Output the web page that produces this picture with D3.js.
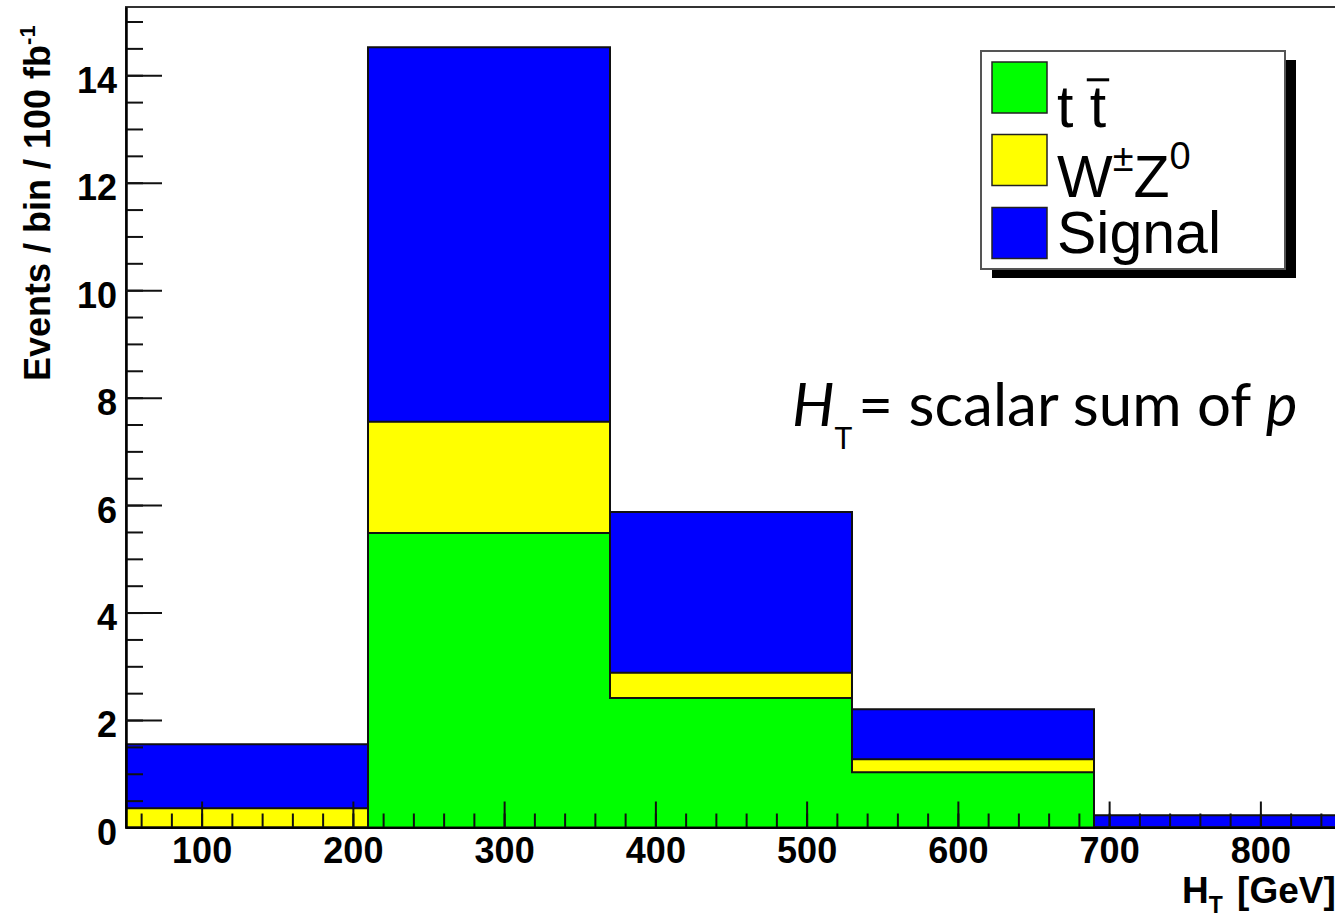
<!DOCTYPE html>
<html>
<head>
<meta charset="utf-8">
<script src="https://cdn.jsdelivr.net/npm/d3@7"></script>
<style>
  html, body { margin: 0; padding: 0; background: #fff; overflow: hidden; }
  svg { display: block; }
  text { font-family: "Liberation Sans", Arial, Helvetica, sans-serif; }
</style>
</head>
<body>
<div id="chart"></div>
<script>
// bin edges in GeV and stacked contents (events / bin / 100 fb^-1)
var binEdges = [50, 210, 370, 530, 690, 850]
var ttbar = [0, 5.48, 2.41, 1.03, 0]
var wz = [0.36, 2.07, 0.47, 0.24, 0]
var signal = [1.19, 6.97, 2.99, 0.93, 0.23]

var keys = ["ttbar", "wz", "signal"]
var colors = ["#00ff00", "#ffff00", "#0000ff"]
var yMajor = [0, 2, 4, 6, 8, 10, 12, 14]
var xMajor = [100, 200, 300, 400, 500, 600, 700, 800]

var W = 1335, H = 914

var svg = d3.select("#chart").append("svg")
    .attr("width", W)
    .attr("height", H)

var x = d3.scaleLinear().domain([50, 850]).range([126, 1336])
var y = d3.scaleLinear().domain([0, 15.27]).range([827.5, 7])

// table for d3.stack
var table = binEdges.slice(0, -1).map(function(e, i) {
    return { lo: e, hi: binEdges[i + 1], ttbar: ttbar[i], wz: wz[i], signal: signal[i] }
})
var stacked = d3.stack().keys(keys)(table)

// frame
svg.append("rect")
    .attr("x", x(50)).attr("y", y(15.27))
    .attr("width", x(850) - x(50)).attr("height", y(0) - y(15.27))
    .attr("fill", "none").attr("stroke", "#333").attr("stroke-width", 2)

// cumulative histograms drawn top first, each filled from zero (THStack style)
var line = d3.line()
for (let k = stacked.length - 1; k >= 0; k--) {
    let pts = [[x(binEdges[0]), y(0)]]
    stacked[k].forEach(function(d) {
        pts.push([x(d.data.lo), y(d[1])])
        pts.push([x(d.data.hi), y(d[1])])
    })
    pts.push([x(binEdges[binEdges.length - 1]), y(0)])
    svg.append("path")
        .attr("d", line(pts) + "Z")
        .attr("fill", colors[k])
        .attr("stroke", "#111")
        .attr("stroke-width", 2)
        .attr("stroke-linejoin", "miter")
}

// axes
var yAxisMinor = d3.axisLeft(y).tickValues(d3.range(0, 15.01, 0.5)).tickSize(-17).tickSizeOuter(0).tickFormat("")
var yAxisMajor = d3.axisLeft(y).tickValues(yMajor).tickSize(-36).tickSizeOuter(0).tickPadding(9)
var xAxisMinor = d3.axisBottom(x).tickValues(d3.range(60, 841, 20)).tickSize(-14).tickSizeOuter(0).tickFormat("")
var xAxisMajor = d3.axisBottom(x).tickValues(xMajor).tickSize(-26).tickSizeOuter(0).tickPadding(9.5)

function styleAxis(g) {
    g.select(".domain").attr("stroke", "#000").attr("stroke-width", 2)
    g.selectAll(".tick line").attr("stroke", "#111").attr("stroke-width", 2)
    g.selectAll(".tick text")
        .attr("fill", "#000")
        .style("font-family", '"Liberation Sans", Arial, sans-serif')
        .style("font-weight", "bold")
        .style("font-size", "36px")
}

svg.append("g").attr("transform", "translate(" + x(50) + ",0)").call(yAxisMinor).call(styleAxis)
var gy = svg.append("g").attr("transform", "translate(" + x(50) + ",0)").call(yAxisMajor).call(styleAxis)
gy.selectAll(".tick text").attr("dy", "0.47em")
svg.append("g").attr("transform", "translate(0," + y(0) + ")").call(xAxisMinor).call(styleAxis)
svg.append("g").attr("transform", "translate(0," + y(0) + ")").call(xAxisMajor).call(styleAxis)

// axis titles
var yt = svg.append("text")
    .attr("transform", "translate(50,381) rotate(-90)")
    .style("font-weight", "bold").style("font-size", "36px")
    .attr("fill", "#000")
yt.append("tspan").text("Events / bin / 100 fb")
yt.append("tspan").attr("dy", -15).style("font-size", "22px").text("-1")

var xt = svg.append("text")
    .attr("x", 1182).attr("y", 903)
    .style("font-weight", "bold").style("font-size", "37px")
    .attr("fill", "#000")
xt.append("tspan").text("H")
xt.append("tspan").attr("dy", 10).style("font-size", "23px").text("T")
xt.append("tspan").attr("dy", -10).attr("dx", 4).text(" [GeV]")

// legend
var leg = svg.append("g")
leg.append("rect").attr("x", 992).attr("y", 60).attr("width", 304).attr("height", 218).attr("fill", "#000")
leg.append("rect").attr("x", 981).attr("y", 51).attr("width", 304).attr("height", 218)
    .attr("fill", "#fff").attr("stroke", "#555").attr("stroke-width", 2)

var legRows = [62, 134.5, 207.5]
var legBase = [127, 197, 253]
legRows.forEach(function(ry, i) {
    leg.append("rect").attr("x", 992).attr("y", ry).attr("width", 55).attr("height", 51)
        .attr("fill", colors[i]).attr("stroke", "#222").attr("stroke-width", 1.5)
})

var fs = 59
var t0 = leg.append("text").attr("x", 1057).attr("y", legBase[0]).style("font-size", fs + "px").text("t t")
var ext = t0.node().getExtentOfChar(2)
leg.append("line")
    .attr("x1", ext.x - 3).attr("x2", ext.x + ext.width + 3)
    .attr("y1", legBase[0] - 0.8 * fs).attr("y2", legBase[0] - 0.8 * fs)
    .attr("stroke", "#000").attr("stroke-width", 3)

var t1 = leg.append("text").attr("x", 1057).attr("y", legBase[1]).style("font-size", fs + "px")
t1.append("tspan").text("W")
t1.append("tspan").attr("dy", -26).style("font-size", "38px").text("\u00b1")
t1.append("tspan").attr("dy", 26).text("Z")
t1.append("tspan").attr("dy", -28).style("font-size", "38px").text("0")

leg.append("text").attr("x", 1057).attr("y", legBase[2]).style("font-size", fs + "px").text("Signal")

// annotation from the slide
var note = svg.append("text")
    .attr("x", 792).attr("y", 426)
    .style("font-family", "Lato, 'Open Sans', sans-serif")
    .style("font-size", "60px")
    .attr("fill", "#000")
note.append("tspan").style("font-style", "italic").text("H")
note.append("tspan").attr("dy", 23).style("font-size", "30px").text("T")
note.append("tspan").attr("dy", -23).attr("dx", 6).text("= scalar sum of ")
note.append("tspan").style("font-style", "italic").text("p")
</script>
</body>
</html>
